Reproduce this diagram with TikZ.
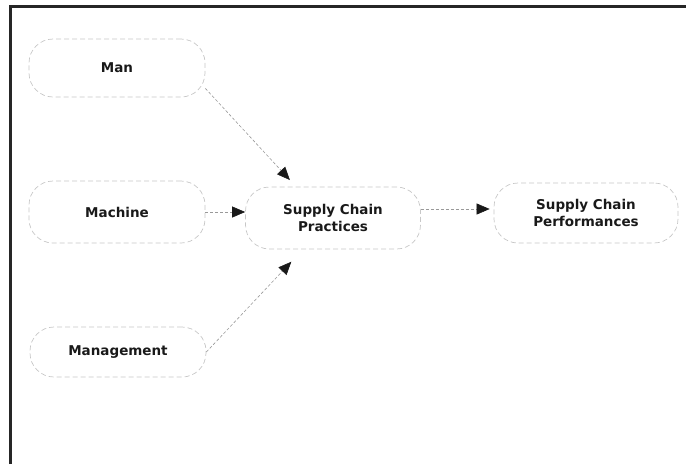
\documentclass[tikz,border=0pt]{standalone}
\usepackage{fontspec}
\setmainfont{DejaVu Sans}
\usetikzlibrary{arrows.meta}
\begin{document}
\begin{tikzpicture}[x=1pt,y=-1pt,
  factor/.style={draw=black!22, line width=0.7pt, dash pattern=on 5pt off 3pt,
    rounded corners=24pt, minimum width=176pt, minimum height=58pt,
    align=center, text=black!90, inner sep=0pt,
    font=\fontsize{13.5}{17}\selectfont\bfseries},
  link/.style={draw=black!40, line width=0.6pt, dash pattern=on 3pt off 2pt,
    -{Triangle[length=13pt,width=11pt,color=black!90]}},
]
\useasboundingbox (0,0) rectangle (686,464);
% open frame: left and top rules only
\draw[line width=3pt, black!85] (10,464) -- (10,6.5) -- (686,6.5);

% factors
\node[factor] (man) at (117,68) {Man};
\node[factor, minimum height=62pt] (machine) at (117,212) {Machine};
\node[factor, minimum height=50pt] (mgmt) at (118,352) {Management};
\node[factor, minimum width=175pt, minimum height=62pt] (scp) at (333,218) {Supply Chain\\Practices};
\node[factor, minimum width=184pt, minimum height=60pt] (perf) at (586,213) {Supply Chain\\Performances};

% influences
\draw[link, shorten >=9pt] (man.-13) -- ([xshift=-37pt]scp.north);
\draw[link] (machine.east) -- (machine.east -| scp.west);
\draw[link, shorten >=17pt] (mgmt.east) -- ([xshift=-30pt]scp.south);
\draw[link, shorten >=4pt] ([yshift=9pt]scp.east) -- ([yshift=4pt]perf.west);
\end{tikzpicture}
\end{document}
